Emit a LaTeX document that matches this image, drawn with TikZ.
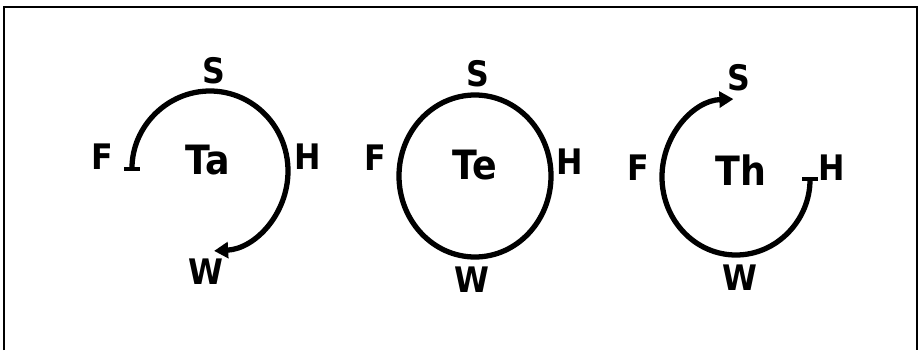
\documentclass[tikz,border=0pt]{standalone}
\usepackage{fontspec}
\setmainfont{DejaVu Sans Condensed}
\usetikzlibrary{arrows.meta}

\begin{document}
\begin{tikzpicture}[
    every node/.style={font=\bfseries\fontsize{20}{20}\selectfont, inner sep=0pt},
    season/.style={font=\bfseries\fontsize{23}{23}\selectfont},
    ring/.style={line width=3pt},
    flow/.style={line width=3pt, {Bar[width=9pt, line width=2.2pt]}-{Triangle[length=8pt, width=9pt]}},
    frame/.style={line width=1.4pt},
]
\useasboundingbox (0,0) rectangle (18.38,7.0);
% Rahmen, unten offen
\draw[frame] (0.08,0) -- (0.08,6.86) -- (18.34,6.86) -- (18.34,0);
% Ta
\coordinate (ta-c) at (4.20,3.60);
\coordinate (ta-start) at (2.64,3.58);
\draw[flow] (ta-start) arc[start angle=180, end angle=-87, x radius=1.56, y radius=1.60];
\node[season] (ta)   at (4.16,3.80) {Ta};
\node         (ta-s) at (4.28,5.58) {S};
\node         (ta-f) at (2.04,3.86) {F};
\node         (ta-h) at (6.16,3.86) {H};
\node         (ta-w) at (4.12,1.56) {W};
% Te
\coordinate (te-c) at (9.50,3.48);
\draw[ring] (te-c) ellipse[x radius=1.52, y radius=1.62];
\node[season] (te)   at (9.50,3.70) {Te};
\node         (te-s) at (9.56,5.52) {S};
\node         (te-f) at (7.50,3.84) {F};
\node         (te-h) at (11.40,3.76) {H};
\node         (te-w) at (9.44,1.40) {W};
% Th
\coordinate (th-c) at (14.72,3.46);
\coordinate (th-start) at (16.20,3.46);
\draw[flow] (th-start) arc[start angle=0, end angle=-268, x radius=1.48, y radius=1.56];
\node[season] (th)   at (14.82,3.60) {Th};
\node         (th-s) at (14.78,5.44) {S};
\node         (th-f) at (12.76,3.64) {F};
\node         (th-h) at (16.64,3.64) {H};
\node         (th-w) at (14.80,1.44) {W};
\end{tikzpicture}
\end{document}
